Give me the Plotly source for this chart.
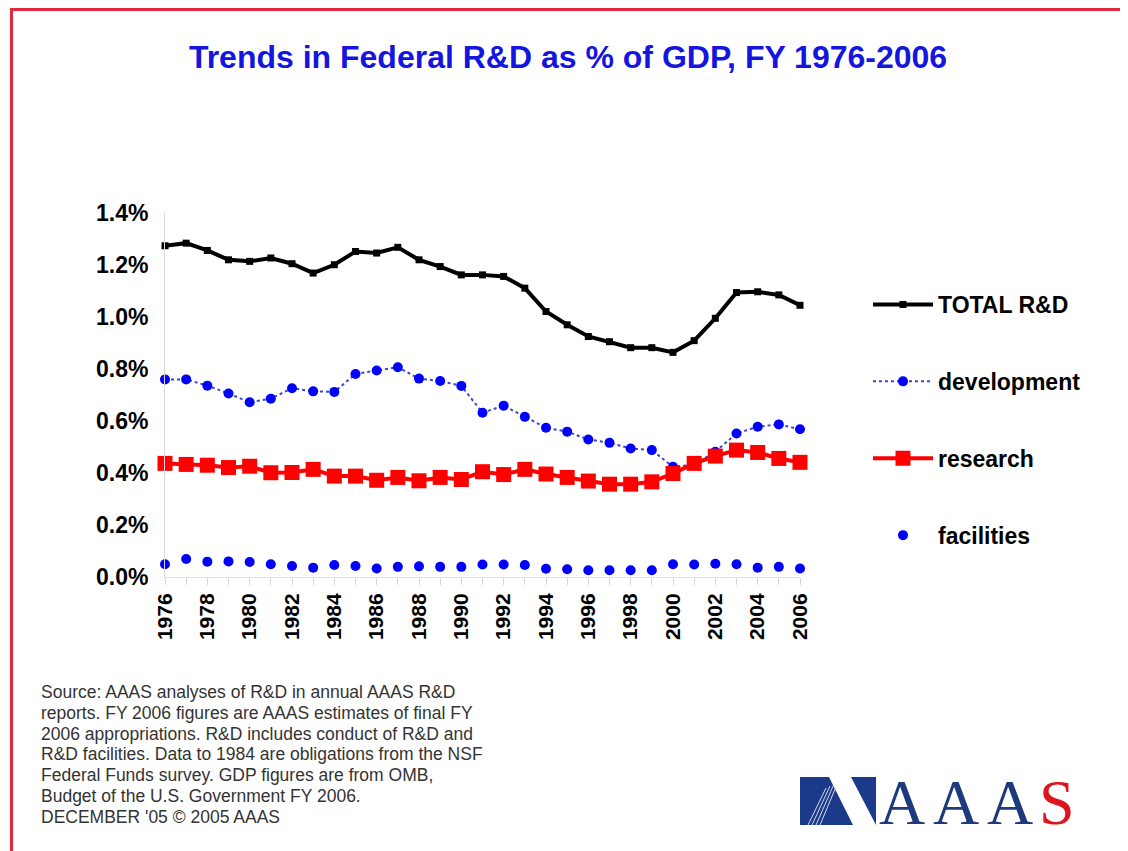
import plotly.graph_objects as go

years = list(range(1976, 2007))
total_rd = [1.274, 1.284, 1.256, 1.220, 1.214, 1.227, 1.205, 1.169, 1.201, 1.252,
            1.246, 1.268, 1.220, 1.194, 1.162, 1.162, 1.156, 1.111, 1.021, 0.970,
            0.925, 0.905, 0.882, 0.882, 0.864, 0.909, 0.995, 1.094, 1.097, 1.085, 1.045]
development = [0.760, 0.760, 0.736, 0.706, 0.672, 0.686, 0.726, 0.714, 0.712, 0.781,
               0.794, 0.807, 0.763, 0.754, 0.735, 0.632, 0.659, 0.616, 0.574, 0.559,
               0.529, 0.516, 0.494, 0.488, 0.424, 0.432, 0.482, 0.552, 0.578, 0.587, 0.568]
research = [0.437, 0.433, 0.430, 0.421, 0.426, 0.401, 0.402, 0.414, 0.388, 0.388,
            0.372, 0.383, 0.370, 0.383, 0.375, 0.405, 0.394, 0.414, 0.396, 0.383,
            0.369, 0.357, 0.357, 0.366, 0.398, 0.437, 0.465, 0.488, 0.479, 0.456, 0.441]
facilities = [0.049, 0.069, 0.059, 0.060, 0.058, 0.049, 0.042, 0.036, 0.046, 0.042,
              0.033, 0.039, 0.041, 0.039, 0.039, 0.048, 0.048, 0.046, 0.032, 0.030,
              0.026, 0.026, 0.026, 0.026, 0.049, 0.048, 0.051, 0.049, 0.036, 0.039, 0.033]

y_ticks = [0.0, 0.2, 0.4, 0.6, 0.8, 1.0, 1.2, 1.4]
x_tick_years = list(range(1976, 2007, 2))

title_text = "Trends in Federal R&D as % of GDP, FY 1976-2006"
source_lines = [
    "Source: AAAS analyses of R&D in annual AAAS R&D",
    "reports. FY 2006 figures are AAAS estimates of final FY",
    "2006 appropriations. R&D includes conduct of R&D and",
    "R&D facilities. Data to 1984 are obligations from the NSF",
    "Federal Funds survey. GDP figures are from OMB,",
    "Budget of the U.S. Government FY 2006.",
    "DECEMBER '05 \u00a9 2005 AAAS",
]

# page offset (browser body margin)
OFF = 8
W, H = 1128 - OFF, 851 - OFF
L, R, T, B = 165, 800, 213, 577  # plot area in page pixels


def fx(px):
    return (px - L) / (R - L)


def fy(py):
    return (B - py) / (B - T)


BLUE = "#0000ff"
fig = go.Figure()
fig.add_trace(go.Scatter(
    x=years, y=facilities, name="facilities", mode="markers",
    marker=dict(symbol="circle", size=10, color=BLUE),
    cliponaxis=False, legendrank=4,
))
fig.add_trace(go.Scatter(
    x=years, y=development, name="development", mode="lines+markers",
    line=dict(color="#3c46c8", width=2, dash="dot"),
    marker=dict(symbol="circle", size=10, color=BLUE),
    cliponaxis=False, legendrank=2,
))
fig.add_trace(go.Scatter(
    x=years, y=research, name="research", mode="lines+markers",
    line=dict(color="#ff0000", width=4),
    marker=dict(symbol="square", size=15, color="#ff0000"),
    cliponaxis=False, legendrank=3,
))
fig.add_trace(go.Scatter(
    x=years, y=total_rd, name="TOTAL R&D", mode="lines+markers",
    line=dict(color="#000000", width=4),
    marker=dict(symbol="square", size=7, color="#000000"),
    cliponaxis=False, legendrank=1,
))
for i, tr in enumerate(fig.data):
    tr.legendgroup = f"g{i}"

shapes = []
border = "#e2283a"
shapes.append(dict(type="line", xref="paper", yref="paper",
                   x0=fx(11), x1=fx(1135), y0=fy(9.5), y1=fy(9.5),
                   line=dict(color=border, width=3)))
shapes.append(dict(type="line", xref="paper", yref="paper",
                   x0=fx(11.5), x1=fx(11.5), y0=fy(8), y1=fy(860),
                   line=dict(color=border, width=3)))

navy = "#1b3a8a"


def poly(pts, color):
    d = "M " + " L ".join(f"{fx(a):.5f},{fy(b):.5f}" for a, b in pts) + " Z"
    return dict(type="path", xref="paper", yref="paper", path=d,
                fillcolor=color, line=dict(width=0))


shapes.append(poly([(800, 777), (829, 777), (853, 825), (800, 825)], navy))
shapes.append(poly([(851, 777), (876, 777), (876, 825)], navy))
for i in range(4):
    x0 = 808 + i * 4
    shapes.append(dict(type="line", xref="paper", yref="paper",
                       x0=fx(x0), y0=fy(825), x1=fx(x0 + 18), y1=fy(788 - i * 2),
                       line=dict(color="rgba(255,255,255,0.8)", width=1)))

annotations = []
for i, line in enumerate(source_lines):
    annotations.append(dict(text=line, xref="paper", yref="paper",
                            x=fx(39), y=fy(692 + i * 20.8), xanchor="left", yanchor="middle",
                            align="left", showarrow=False,
                            font=dict(family="Arial, Liberation Sans", size=17.5, color="#333333")))
for ch, cx, col in [("A", 902, "#1d3a7c"), ("A", 956, "#1d3a7c"), ("A", 1010, "#1d3a7c"), ("S", 1057, "#e0141e")]:
    annotations.append(dict(text=ch, xref="paper", yref="paper", x=fx(cx), y=fy(802),
                            xanchor="center", yanchor="middle", showarrow=False,
                            font=dict(family="Liberation Serif, Times New Roman", size=64, color=col)))

fig.update_layout(
    width=W, height=H,
    margin=dict(l=L - OFF, r=W - (R - OFF), t=T - OFF, b=H - (B - OFF), autoexpand=False),
    paper_bgcolor="white", plot_bgcolor="white",
    font=dict(family="Arial, Liberation Sans", color="#000000"),
    title=dict(text=f"<b>{title_text}</b>", x=(568 - OFF) / W, xanchor="center",
               y=1 - (57 - OFF) / H, yanchor="middle",
               font=dict(size=32, color="#1515e0", family="Arial, Liberation Sans")),
    showlegend=True,
    legend=dict(x=fx(868), y=fy(283), xanchor="left", yanchor="top",
                font=dict(size=23, color="#000000", family="Arial, Liberation Sans", weight="bold"),
                itemwidth=60, tracegroupgap=44, traceorder="grouped",
                bgcolor="rgba(0,0,0,0)"),
    shapes=shapes,
    annotations=annotations,
)

fig.update_xaxes(range=[1976, 2006], tickmode="array", tickvals=x_tick_years,
                 ticktext=[str(y) for y in x_tick_years], tickangle=-90,
                 tickfont=dict(size=21, family="Arial, Liberation Sans", weight="bold", color="#000000"),
                 showgrid=False, zeroline=False, showline=True, linecolor="#e6e2c8", linewidth=1,
                 ticks="outside", ticklen=7, tickcolor="#d4d0e8",
                 minor=dict(dtick=1, tick0=1976, ticks="outside", ticklen=7, tickcolor="#d4d0e8"),
                 ticklabelstandoff=0)
fig.update_yaxes(range=[0, 1.4], tickvals=y_ticks, ticktext=[f"{v:.1f}%" for v in y_ticks],
                 tickfont=dict(size=23, family="Arial, Liberation Sans", weight="bold", color="#000000"),
                 showgrid=False, zeroline=False, showline=True, linecolor="#d8d8d8", linewidth=1,
                 ticks="", ticklabelstandoff=11)

fig.write_html("out.html")
